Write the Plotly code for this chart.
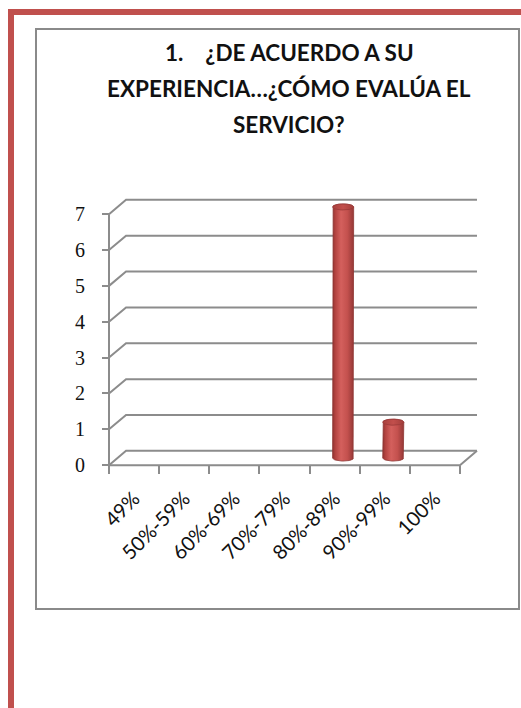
import numpy as np
import plotly.graph_objects as go

# Survey answers: how many respondents rated the service in each band
categories = ["49%", "50%-59%", "60%-69%", "70%-79%", "80%-89%", "90%-99%", "100%"]
counts = [0, 0, 0, 0, 7, 1, 0]
y_ticks = [0, 1, 2, 3, 4, 5, 6, 7]
title_lines = ["1.    ¿DE ACUERDO A SU", "EXPERIENCIA…¿CÓMO EVALÚA EL", "SERVICIO?"]

W, H = 521, 708
# plot area in pixels
L, R, T, B = 106, 41, 198, 241
X_RANGE = [-0.56, 6.9]
Y_RANGE = [-0.05, 7.45]
DX, DY = 0.34, 0.40          # depth offset of the back wall (axis units)
BAR_HALF = 0.21              # cylinder half width (x units)
RY = 0.085                   # cylinder cap half height (y units)

GRID = "#8c8c8c"
RED = "#c0504d"

pw, ph = W - L - R, H - T - B


def px_to_paper(px, py):
    return (px - L) / pw, (H - B - py) / ph


n = len(categories)
x0, x1 = -0.5, n - 0.5

fig = go.Figure()

# back wall gridlines with their diagonal on the side wall
gx, gy = [], []
for v in y_ticks:
    gx += [x0, x0 + DX, x1 + DX, None]
    gy += [v, v + DY, v + DY, None]
# floor front edge and right diagonal, plus the value axis line
gx += [x0, x1, x1 + DX, None, x0, x0]
gy += [0, 0, DY, None, 0, max(y_ticks)]
fig.add_trace(go.Scatter(x=gx, y=gy, mode="lines",
                         line=dict(color=GRID, width=2),
                         hoverinfo="skip", showlegend=False))

# cylinders
t = np.linspace(0, np.pi, 40)
for i, v in enumerate(counts):
    if v <= 0:
        continue
    cx = i + DX / 2
    cy0 = DY / 2
    cy1 = v + DY / 2
    xs = np.concatenate([[cx - BAR_HALF], cx - BAR_HALF * np.cos(t),
                         [cx + BAR_HALF], cx + BAR_HALF * np.cos(t)])
    ys = np.concatenate([[cy0], cy1 + RY * np.sin(t),
                         [cy0], cy0 - RY * np.sin(t)])
    fig.add_trace(go.Scatter(
        x=xs, y=ys, mode="lines", fill="toself",
        line=dict(color="#8e3532", width=0.8),
        fillgradient=dict(type="horizontal",
                          colorscale=[[0, "#8f3331"], [0.12, "#b2423f"],
                                      [0.4, "#d4605d"], [0.7, "#c4514e"],
                                      [1, "#953836"]]),
        hoverinfo="skip", showlegend=False))
    tt = np.linspace(0, 2 * np.pi, 60)
    fig.add_trace(go.Scatter(
        x=cx + BAR_HALF * np.cos(tt), y=cy1 + RY * np.sin(tt),
        mode="lines", fill="toself",
        line=dict(color="#9a3a38", width=0.8),
        fillgradient=dict(type="horizontal",
                          colorscale=[[0, "#a8403d"], [0.5, "#c24f4c"],
                                      [1, "#a33e3b"]]),
        hoverinfo="skip", showlegend=False))

# invisible trace so the tick-mark axis is drawn
fig.add_trace(go.Scatter(x=[x0], y=[0], xaxis="x2", mode="markers",
                         marker=dict(opacity=0), hoverinfo="skip",
                         showlegend=False))

axis_x_pos = (0 - Y_RANGE[0]) / (Y_RANGE[1] - Y_RANGE[0])
axis_y_pos = (x0 - X_RANGE[0]) / (X_RANGE[1] - X_RANGE[0])

annotations = []
for k, line in enumerate(title_lines):
    ax, ay = px_to_paper(289, 52 + k * 36)
    annotations.append(dict(
        text=f"<b>{line}</b>", x=ax, y=ay, xref="paper", yref="paper",
        showarrow=False, xanchor="center", yanchor="middle",
        font=dict(family="Lato", size=22.5, color="#111111")))

shapes = []
# chart frame
bx0, by0 = px_to_paper(36, 609)
bx1, by1 = px_to_paper(519, 29)
shapes.append(dict(type="rect", xref="paper", yref="paper",
                   x0=bx0, y0=by0, x1=bx1, y1=by1,
                   line=dict(color="#8a8a8a", width=2), layer="below"))
# red page rules
rx0, ry0 = px_to_paper(8, 12)
rx1, _ = px_to_paper(521, 12)
shapes.append(dict(type="line", xref="paper", yref="paper",
                   x0=rx0, y0=ry0, x1=rx1, y1=ry0,
                   line=dict(color=RED, width=6)))
lx, ly0 = px_to_paper(11, 9)
_, ly1 = px_to_paper(11, 708)
shapes.append(dict(type="line", xref="paper", yref="paper",
                   x0=lx, y0=ly0, x1=lx, y1=ly1,
                   line=dict(color=RED, width=6)))

fig.update_layout(
    width=W, height=H,
    margin=dict(l=L, r=R, t=T, b=B),
    paper_bgcolor="white", plot_bgcolor="white",
    showlegend=False,
    xaxis=dict(range=X_RANGE, tickvals=list(range(n)), ticktext=categories,
               tickangle=-45, ticks="", showgrid=False, zeroline=False,
               showline=False, anchor="free", position=axis_x_pos,
               ticklabelstandoff=17,
               tickfont=dict(family="Lato", size=20, color="#111111")),
    xaxis2=dict(range=X_RANGE, overlaying="x", anchor="free",
                position=axis_x_pos, side="bottom",
                tickvals=[x0 + k for k in range(n + 1)],
                showticklabels=False, ticks="outside", ticklen=8,
                tickwidth=2, tickcolor=GRID, showgrid=False,
                zeroline=False, showline=False),
    yaxis=dict(range=Y_RANGE, tickvals=y_ticks,
               ticktext=[str(v) for v in y_ticks],
               ticks="outside", ticklen=7, tickwidth=2, tickcolor=GRID,
               showgrid=False, zeroline=False, showline=False,
               anchor="free", position=axis_y_pos, ticklabelstandoff=13,
               tickfont=dict(family="Liberation Serif", size=20,
                             color="#111111")),
    annotations=annotations,
    shapes=shapes,
)

fig.write_html("out.html")
